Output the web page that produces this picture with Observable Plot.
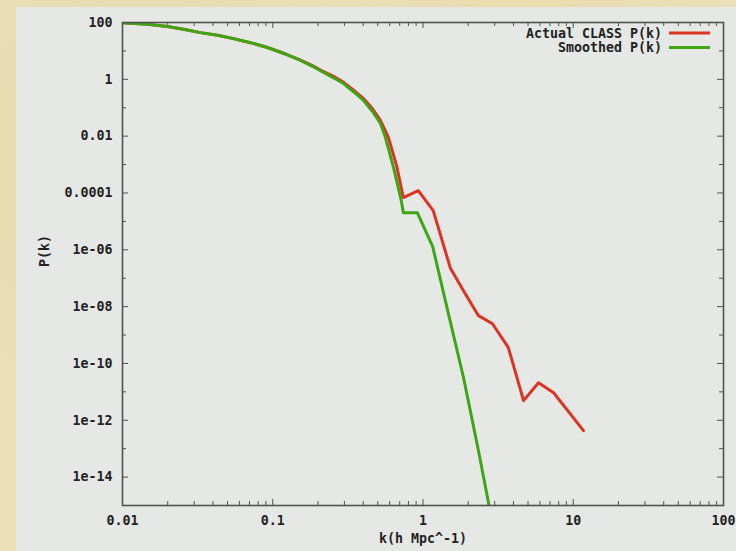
<!DOCTYPE html>
<html>
<head>
<meta charset="utf-8">
<script src="https://cdn.jsdelivr.net/npm/d3@7"></script>
<script src="https://cdn.jsdelivr.net/npm/@observablehq/plot@0.6"></script>
<style>
  html, body { margin: 0; padding: 0; }
  body {
    width: 736px; height: 551px; overflow: hidden; position: relative;
    background:
      radial-gradient(circle at 20% 30%, rgba(214,196,140,0.35), transparent 40%),
      radial-gradient(circle at 70% 10%, rgba(226,208,150,0.35), transparent 35%),
      #ebe0b8;
  }
  #panel { position: absolute; left: 16px; top: 7px; right: 0; bottom: 0; background: #e5e8e5; }
  #chart { position: absolute; left: 0; top: 0; }
  svg text { font-family: "DejaVu Sans Mono", monospace; font-weight: bold; }
</style>
</head>
<body>
<div id="panel"></div>
<div id="chart"></div>
<script>
// Power spectrum samples: wavenumber k (h/Mpc) and P(k)
const kActual = [0.01, 0.01467, 0.0199, 0.02547, 0.033, 0.04288, 0.0548, 0.0711, 0.0922, 0.1197, 0.153, 0.1839, 0.218, 0.2537, 0.296, 0.3446, 0.402, 0.4613, 0.521, 0.589, 0.667, 0.74, 0.93, 1.17, 1.52, 1.86, 2.34, 2.9, 3.7, 4.67, 5.87, 7.4, 11.7];
const pActual = [98, 87, 72, 57.7, 44, 35.4, 27, 19.5, 13.2, 8.1, 4.7, 3.05, 1.85, 1.27, 0.78, 0.42, 0.21, 0.092, 0.036, 8.9e-3, 9.2e-4, 6.9e-5, 1.2e-4, 2.4e-5, 2.3e-7, 3.6e-8, 4.8e-9, 2.5e-9, 3.6e-10, 4.9e-12, 2.1e-11, 9.3e-12, 4.3e-13];

const kSmooth = [0.01, 0.01467, 0.0199, 0.02547, 0.033, 0.04288, 0.0548, 0.0711, 0.0922, 0.1197, 0.153, 0.1839, 0.218, 0.2537, 0.296, 0.3446, 0.402, 0.4613, 0.521, 0.5625, 0.637, 0.7167, 0.74, 0.918, 1.16, 1.46, 1.86, 2.34, 2.81];
const pSmooth = [98, 87, 72, 57.7, 44, 35.4, 27, 19.5, 13.2, 7.96, 4.6, 2.87, 1.74, 1.13, 0.71, 0.366, 0.18, 0.0735, 0.028, 8.9e-3, 7.8e-4, 5.4e-5, 2.0e-5, 2.0e-5, 1.3e-6, 7.2e-9, 3.2e-11, 8.5e-14, 5.6e-16];

const seriesNames = ["Actual CLASS P(k)", "Smoothed P(k)"];
const seriesColors = ["#dc3324", "#3ea514"];

// Axis ticks and labels
const xMajor = [0.01, 0.1, 1, 10, 100];
const xLabels = ["0.01", "0.1", "1", "10", "100"];
const xMinorMult = [2, 3, 4, 5, 6, 7, 8, 9];
const yMajor = [100, 1, 1e-2, 1e-4, 1e-6, 1e-8, 1e-10, 1e-12, 1e-14];
const yLabels = ["100", "1", "0.01", "0.0001", "1e-06", "1e-08", "1e-10", "1e-12", "1e-14"];
const yMinor = [10, 0.1, 1e-3, 1e-5, 1e-7, 1e-9, 1e-11, 1e-13];

const xTitle = "k(h Mpc^-1)";
const yTitle = "P(k)";

const xMinor = xMajor.slice(0, -1).flatMap(d => xMinorMult.map(m => d * m));
const actual = kActual.map((k, i) => ({k, p: pActual[i]}));
const smooth = kSmooth.map((k, i) => ({k, p: pSmooth[i]}));

const W = 736, H = 551;
const mL = 122, mT = 22, mR = 13, mB = 46;
const innerW = W - mL - mR, innerH = H - mT - mB;
const tickMaj = 6, tickMin = 4;
const frameColor = "#505250";
const fontSize = "13.3px";

const xLab = new Map(xMajor.map((d, i) => [d, xLabels[i]]));
const yLab = new Map(yMajor.map((d, i) => [d, yLabels[i]]));

const chart = Plot.plot({
  width: W, height: H,
  marginLeft: mL, marginTop: mT, marginRight: mR, marginBottom: mB,
  style: {background: "transparent", fontSize, color: "#222"},
  x: {type: "log", domain: [0.01, 100]},
  y: {type: "log", domain: [1e-15, 100]},
  marks: [
    // inward ticks on all four sides
    Plot.tickX(xMajor, {x: d => d, insetTop: innerH - tickMaj, stroke: frameColor}),
    Plot.tickX(xMinor, {x: d => d, insetTop: innerH - tickMin, stroke: frameColor}),
    Plot.tickX(xMajor, {x: d => d, insetBottom: innerH - tickMaj, stroke: frameColor}),
    Plot.tickX(xMinor, {x: d => d, insetBottom: innerH - tickMin, stroke: frameColor}),
    Plot.tickY(yMajor, {y: d => d, insetRight: innerW - tickMaj, stroke: frameColor}),
    Plot.tickY(yMinor, {y: d => d, insetRight: innerW - tickMin, stroke: frameColor}),
    Plot.tickY(yMajor, {y: d => d, insetLeft: innerW - tickMaj, stroke: frameColor}),
    Plot.tickY(yMinor, {y: d => d, insetLeft: innerW - tickMin, stroke: frameColor}),
    Plot.axisX({ticks: xMajor, tickSize: 0, tickPadding: 10, tickFormat: d => xLab.get(d), label: null, fill: "#222"}),
    Plot.axisY({ticks: yMajor, tickSize: 0, tickPadding: 10, tickFormat: d => yLab.get(d), label: null, fill: "#222"}),
    Plot.line(actual, {x: "k", y: "p", stroke: seriesColors[0], strokeWidth: 3, clip: true}),
    Plot.line(smooth, {x: "k", y: "p", stroke: seriesColors[1], strokeWidth: 3, clip: true}),
    Plot.frame({stroke: frameColor, strokeWidth: 1.6}),
    Plot.text([xTitle], {frameAnchor: "bottom", dy: 37, fill: "#222"}),
    Plot.text([yTitle], {frameAnchor: "left", rotate: -90, dx: -78, dy: 3, fill: "#222"})
  ]
});

// Key in the upper right corner
const svg = d3.select(chart);
const key = svg.append("g");
seriesNames.forEach((name, i) => {
  const y = 33 + i * 14.5;
  key.append("text").attr("x", 662).attr("y", y).attr("dy", "0.35em")
    .attr("text-anchor", "end").attr("fill", "#222").style("font-size", fontSize).text(name);
  key.append("line").attr("x1", 669).attr("x2", 710).attr("y1", y).attr("y2", y)
    .attr("stroke", seriesColors[i]).attr("stroke-width", 3);
});

document.getElementById("chart").append(chart);
</script>
</body>
</html>
